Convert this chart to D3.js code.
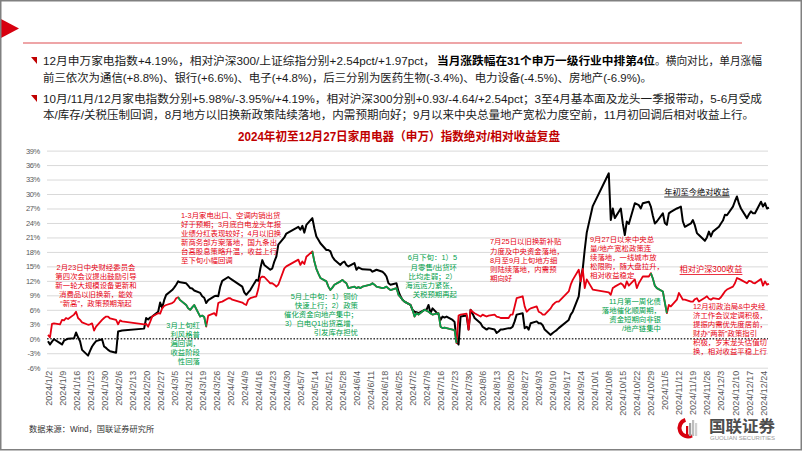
<!DOCTYPE html>
<html lang="zh-CN">
<head>
<meta charset="utf-8">
<script src="https://cdn.jsdelivr.net/npm/d3@7"></script>
<style>
  body { margin: 0; background: #fff; }
  svg { display: block; }
  text { font-family: "Liberation Sans", "Noto Sans CJK SC", sans-serif; }
</style>
</head>
<body>
<svg id="chart" width="802" height="451"></svg>
<script>
// values (percent), trading days of 2024
const absReturn = [
  ["1/2",-0.5],["1/3",-1.2],["1/4",-0.6],["1/5",-0.1],["1/8",-0.9],["1/9",-1.2],["1/10",-0.4],["1/11",-0.2],["1/12",0.0],
  ["1/15",0.1],["1/16",1.3],["1/17",0.3],["1/18",-0.5],["1/19",-2.3],["1/22",-3.5],["1/23",-2.5],["1/24",-1.6],["1/25",-1.0],
  ["1/26",-0.5],["1/29",-0.1],["1/30",-1.6],["1/31",-1.9],["2/1",-2.3],["2/2",-2.6],["2/5",-2.9],["2/6",1.5],["2/7",1.6],
  ["2/8",1.7],["2/19",2.1],["2/20",4.3],["2/21",4.0],["2/22",4.4],["2/23",4.6],["2/26",5.6],["2/27",7.5],["2/28",6.4],
  ["2/29",8.0],["3/1",9.1],["3/4",10.1],["3/5",10.6],["3/6",11.2],["3/7",11.9],["3/8",11.7],["3/11",11.5],["3/12",11.0],
  ["3/13",10.5],["3/14",10.4],["3/15",10.0],["3/18",9.5],["3/19",8.8],["3/20",8.5],["3/21",7.4],["3/22",8.0],["3/25",8.8],
  ["3/26",8.9],["3/27",8.8],["3/28",10.8],["3/29",12.0],["4/1",12.8],["4/2",12.5],["4/3",12.2],["4/8",10.8],["4/9",9.6],
  ["4/10",9.1],["4/11",9.6],["4/12",10.1],["4/15",12.2],["4/16",12.0],["4/17",14.5],["4/18",16.3],["4/19",15.3],["4/22",14.3],
  ["4/23",14.6],["4/24",16.0],["4/25",17.0],["4/26",19.5],["4/29",21.0],["4/30",21.8],["5/6",23.2],["5/7",22.6],["5/8",23.4],
  ["5/9",22.0],["5/10",23.6],["5/13",25.0],["5/14",22.9],["5/15",21.2],["5/16",20.5],["5/17",19.8],["5/20",18.4],["5/21",18.4],
  ["5/22",18.1],["5/23",17.0],["5/24",16.4],["5/27",15.3],["5/28",15.8],["5/29",16.0],["5/30",15.3],["5/31",15.0],["6/3",15.7],
  ["6/4",14.3],["6/5",14.8],["6/6",14.6],["6/7",14.4],["6/11",14.3],["6/12",13.9],["6/13",14.1],["6/14",14.3],["6/17",13.9],
  ["6/18",13.5],["6/19",12.9],["6/20",11.5],["6/21",11.2],["6/24",11.5],["6/25",9.8],["6/26",8.8],["6/27",8.1],["6/28",7.7],
  ["7/1",7.0],["7/2",6.0],["7/3",5.6],["7/4",5.5],["7/5",5.3],["7/8",6.0],["7/9",6.0],["7/10",7.0],["7/11",5.3],["7/12",6.3],
  ["7/15",5.0],["7/16",3.9],["7/17",4.6],["7/18",4.4],["7/19",4.6],["7/22",3.9],["7/23",3.5],["7/24",-0.5],["7/25",-1.2],
  ["7/26",4.6],["7/29",4.8],["7/30",1.9],["7/31",6.0],["8/1",5.2],["8/2",4.3],["8/5",3.2],["8/6",2.5],["8/7",2.2],["8/8",1.9],
  ["8/9",2.2],["8/12",1.9],["8/13",1.2],["8/14",1.5],["8/15",1.9],["8/16",1.9],["8/19",2.2],["8/20",2.2],["8/21",2.5],
  ["8/22",3.6],["8/23",5.0],["8/26",5.3],["8/27",2.2],["8/28",2.5],["8/29",1.9],["8/30",3.2],["9/2",3.6],["9/3",3.2],
  ["9/4",3.2],["9/5",2.8],["9/6",1.9],["9/9",0.8],["9/10",1.2],["9/11",1.5],["9/12",1.8],["9/13",2.2],["9/18",3.9],["9/19",5.0],
  ["9/20",5.6],["9/23",8.8],["9/24",12.5],["9/25",14.5],["9/26",18.5],["9/27",22.0],["9/30",27.5],["10/8",34.3],["10/9",24.6],
  ["10/10",27.0],["10/11",25.0],["10/14",27.0],["10/15",23.9],["10/16",21.5],["10/17",24.3],["10/18",23.8],["10/21",28.1],
  ["10/22",27.9],["10/23",27.7],["10/24",27.0],["10/25",28.1],["10/28",28.4],["10/29",27.4],["10/30",25.5],["10/31",23.9],
  ["11/1",24.3],["11/4",26.0],["11/5",24.0],["11/6",23.6],["11/7",26.0],["11/8",26.3],["11/11",27.0],["11/12",27.2],
  ["11/13",27.4],["11/14",24.3],["11/15",23.2],["11/18",23.9],["11/19",24.6],["11/20",23.5],["11/21",21.9],["11/22",21.5],
  ["11/25",20.3],["11/26",21.0],["11/27",22.2],["11/28",21.2],["11/29",22.2],["12/2",23.2],["12/3",23.9],["12/4",24.5],
  ["12/5",25.7],["12/6",25.6],["12/9",27.4],["12/10",28.5],["12/11",29.5],["12/12",28.0],["12/13",27.0],["12/16",25.0],
  ["12/17",25.8],["12/18",26.4],["12/19",26.0],["12/20",26.0],["12/23",28.4],["12/24",27.4],["12/25",28.1],["12/26",27.0],["12/27",27.2]
]

const relReturn = [
  ["1/2",0.8],["1/3",0.3],["1/4",3.1],["1/5",3.2],["1/8",3.0],["1/9",3.9],["1/10",3.8],["1/11",4.3],["1/12",4.1],["1/15",5.0],
  ["1/16",5.6],["1/17",4.3],["1/18",3.9],["1/19",3.4],["1/22",2.9],["1/23",3.0],["1/24",3.2],["1/25",1.7],["1/26",2.5],
  ["1/29",3.9],["1/30",4.3],["1/31",4.6],["2/1",4.6],["2/2",4.2],["2/5",3.9],["2/6",3.0],["2/7",3.8],["2/8",3.6],["2/19",3.0],
  ["2/20",3.1],["2/21",2.5],["2/22",3.5],["2/23",4.6],["2/26",5.3],["2/27",5.2],["2/28",6.3],["2/29",6.8],["3/1",7.0],
  ["3/4",7.4],["3/5",7.7],["3/6",8.4],["3/7",8.6],["3/8",8.0],["3/11",7.0],["3/12",6.3],["3/13",6.0],["3/14",6.5],["3/15",7.0],
  ["3/18",4.6],["3/19",4.8],["3/20",4.5],["3/21",2.5],["3/22",4.8],["3/25",5.3],["3/26",4.8],["3/27",7.4],["3/28",7.6],
  ["3/29",7.7],["4/1",8.4],["4/2",8.4],["4/3",8.1],["4/8",7.5],["4/9",7.2],["4/10",7.0],["4/11",8.1],["4/12",8.4],["4/15",8.8],
  ["4/16",10.3],["4/17",12.6],["4/18",12.9],["4/19",12.8],["4/22",11.5],["4/23",11.5],["4/24",11.2],["4/25",10.8],["4/26",11.2],
  ["4/29",14.6],["4/30",15.0],["5/6",16.4],["5/7",15.3],["5/8",16.0],["5/9",15.5],["5/10",17.0],["5/13",18.1],["5/14",16.0],
  ["5/15",14.5],["5/16",13.5],["5/17",12.6],["5/20",11.9],["5/21",10.8],["5/22",10.1],["5/23",10.6],["5/24",11.2],["5/27",11.9],
  ["5/28",12.2],["5/29",11.8],["5/30",11.5],["5/31",10.5],["6/3",10.8],["6/4",10.5],["6/5",10.7],["6/6",10.5],["6/7",10.8],
  ["6/11",11.2],["6/12",11.5],["6/13",11.2],["6/14",10.8],["6/17",10.5],["6/18",10.6],["6/19",10.8],["6/20",10.4],["6/21",10.1],
  ["6/24",10.5],["6/25",9.1],["6/26",8.6],["6/27",8.1],["6/28",7.7],["7/1",7.0],["7/2",6.0],["7/3",4.6],["7/4",5.3],["7/5",5.0],
  ["7/8",6.0],["7/9",5.8],["7/10",5.6],["7/11",5.3],["7/12",5.0],["7/15",5.3],["7/16",2.5],["7/17",2.2],["7/18",2.3],["7/19",2.2],
  ["7/22",1.9],["7/23",1.8],["7/24",-0.9],["7/25",4.8],["7/26",5.0],["7/29",5.2],["7/30",1.9],["7/31",6.0],["8/1",5.6],
  ["8/2",5.3],["8/5",4.6],["8/6",5.0],["8/7",4.8],["8/8",4.6],["8/9",4.8],["8/12",5.0],["8/13",4.6],["8/14",4.5],["8/15",4.3],
  ["8/16",4.3],["8/19",4.3],["8/20",5.0],["8/21",5.0],["8/22",6.7],["8/23",8.4],["8/26",8.8],["8/27",6.7],["8/28",5.6],
  ["8/29",6.0],["8/30",6.3],["9/2",6.7],["9/3",5.6],["9/4",5.4],["9/5",5.0],["9/6",5.0],["9/9",6.3],["9/10",7.0],["9/11",7.4],
  ["9/12",7.7],["9/13",7.7],["9/18",9.8],["9/19",11.2],["9/20",12.2],["9/23",14.3],["9/24",11.9],["9/25",14.5],["9/26",10.5],
  ["9/27",12.3],["9/30",10.2],["10/8",9.6],["10/9",9.1],["10/10",10.5],["10/11",10.8],["10/14",11.5],["10/15",11.2],
  ["10/16",10.5],["10/17",11.9],["10/18",11.0],["10/21",12.3],["10/22",10.5],["10/23",11.5],["10/24",12.2],["10/25",12.9],
  ["10/28",12.9],["10/29",13.6],["10/30",12.5],["10/31",11.0],["11/1",10.5],["11/4",9.8],["11/5",7.5],["11/6",5.3],["11/7",7.0],
  ["11/8",6.7],["11/11",8.1],["11/12",9.5],["11/13",8.8],["11/14",8.1],["11/15",8.1],["11/18",7.7],["11/19",7.7],["11/20",8.2],
  ["11/21",8.4],["11/22",7.7],["11/25",8.5],["11/26",8.8],["11/27",8.3],["11/28",8.1],["11/29",8.4],["12/2",8.2],["12/3",8.6],
  ["12/4",9.2],["12/5",9.8],["12/6",10.2],["12/9",10.8],["12/10",11.5],["12/11",12.6],["12/12",12.4],["12/13",12.2],
  ["12/16",11.5],["12/17",12.0],["12/18",11.9],["12/19",11.6],["12/20",11.5],["12/23",12.4],["12/24",11.0],["12/25",11.9],
  ["12/26",11.2],["12/27",11.4]
]

// stretches of the relative line drawn in green
const greenRanges = [["3/7","3/21"],["5/13","7/24"],["10/29","11/6"]]

const yTicks = [-6,-3,0,3,6,9,12,15,18,21,24,27,30,33,36,39]
const xTickLabels = [
  "2024/1/2","2024/1/9","2024/1/16","2024/1/23","2024/1/30","2024/2/6","2024/2/13","2024/2/20","2024/2/27",
  "2024/3/5","2024/3/12","2024/3/19","2024/3/26","2024/4/2","2024/4/9","2024/4/16","2024/4/23","2024/4/30",
  "2024/5/7","2024/5/14","2024/5/21","2024/5/28","2024/6/4","2024/6/11","2024/6/18","2024/6/25","2024/7/2",
  "2024/7/9","2024/7/16","2024/7/23","2024/7/30","2024/8/6","2024/8/13","2024/8/20","2024/8/27","2024/9/3",
  "2024/9/10","2024/9/17","2024/9/24","2024/10/1","2024/10/8","2024/10/15","2024/10/22","2024/10/29","2024/11/5",
  "2024/11/12","2024/11/19","2024/11/26","2024/12/3","2024/12/10","2024/12/17","2024/12/24"
]

const title = "2024年初至12月27日家用电器（申万）指数绝对/相对收益复盘"
const absLabel = "年初至今绝对收益"
const relLabel = "相对沪深300收益"
const source = "数据来源：Wind，国联证券研究所"

const noteA = ["2月23日中央财经委员会","第四次会议提出鼓励引导","新一轮大规模设备更新和","消费品以旧换新，能效","“新高”，政策预期渐起"]
const noteB = ["1-3月家电出口、空调内销出货","好于预期；3月底白电龙头年报","业绩分红表现较好；4月以旧换","新商务部方案落地，国九条出","台高股息策略升温，收益上行","至下旬小幅回调"]
const noteC = ["3月上旬红","利风格普","遍回调，","收益阶段","性回落"]
const noteD = ["5月上中旬：1）铜价","快速上行；2）政策","催化资金向地产集中；","3）白电Q1出货高增，","引发库存担忧"]
const noteE = ["6月下旬：1）5","月零售/出货环","比均走弱；2）","海运运力紧张，","关税预期再起"]
const noteF = ["7月25日以旧换新补贴","力度及中央资金落地，","8月至9月上旬地方细","则陆续落地，内需预","期向好"]
const noteG = ["9月27日以来中央总","量/地产宽松政策连","续落地，一线城市放","松限购，随大盘拉升，","相对收益稳定"]
const noteH = ["11月第一周化债","落地催化顺周期，","资金短期向非银","/地产链集中"]
const noteI = ["12月初政治局&中央经","济工作会议定调积极，","提振内需优先度居前，","财办“两新”政策指引","积极，岁末龙头估值切","换，相对收益平稳上行"]

const RED = '#e60012'
const GREEN = '#00a04b'

const parseMD = (s) => {
    const parts = s.split('/').map(Number)
    return new Date(2024, parts[parts.length - 2] - 1, parts[parts.length - 1])
}

const drawChart = () => {
    const svg = d3.select('#chart')
    const plot = { left: 47, right: 768, top: 150.6, bottom: 367.7 }

    svg.append('rect').attr('width', 802).attr('height', 451).attr('fill', '#fff')

    // ---- header ----
    svg.append('path').attr('d', 'M1,19 L19,28.5 L1,38 Z').attr('fill', '#d7000f')
    svg.append('line')
        .attr('x1', 23).attr('x2', 742).attr('y1', 43).attr('y2', 43)
        .attr('stroke', '#e8878a').attr('stroke-width', 1.5)

    const bullet = (y) => svg.append('path')
        .attr('d', `M31,${y} L37,${y} L37,${y + 7} Z`).attr('fill', '#c00000')
    bullet(57)
    bullet(95)

    const header = svg.append('g').style('font-size', '11px').style('fill', '#1a1a1a')
    const headLine = (txt, x, y, len, bold) => header.append('text')
        .attr('x', x).attr('y', y)
        .attr('textLength', len).attr('lengthAdjust', 'spacingAndGlyphs')
        .style('font-weight', bold ? 'bold' : 'normal')
        .style('fill', bold ? '#000' : '#1a1a1a')
        .text(txt)
    headLine('12月申万家电指数+4.19%，相对沪深300/上证综指分别+2.54pct/+1.97pct，', 43, 65, 392, false)
    headLine('当月涨跌幅在31个申万一级行业中排第4位', 437, 65, 218, true)
    headLine('。横向对比，单月涨幅', 655, 65, 107, false)
    headLine('前三依次为通信(+8.8%)、银行(+6.6%)、电子(+4.8%)，后三分别为医药生物(-3.4%)、电力设备(-4.5%)、房地产(-6.9%)。', 43, 82, 609, false)
    headLine('10月/11月/12月家电指数分别+5.98%/-3.95%/+4.19%，相对沪深300分别+0.93/-4.64/+2.54pct；3至4月基本面及龙头一季报带动，5-6月受成', 43, 103, 719, false)
    headLine('本/库存/关税压制回调，8月地方以旧换新政策陆续落地，内需预期向好；9月以来中央总量地产宽松力度空前，11月初回调后相对收益上行。', 43, 119, 711, false)

    svg.append('text')
        .attr('x', 238).attr('y', 141)
        .attr('textLength', 322).attr('lengthAdjust', 'spacingAndGlyphs')
        .style('font-size', '12px').style('font-weight', 'bold').style('fill', '#c00000')
        .text(title)

    // ---- scales ----
    const x = d3.scaleTime()
        .domain([new Date(2024, 0, 2), new Date(2024, 11, 27)])
        .range([48, 769])

    const y = d3.scaleLinear()
        .domain([-6, 39])
        .range([plot.bottom, plot.top])

    // ---- y axis with grid ----
    const yAxis = svg.append('g')
        .attr('transform', `translate(${plot.left},0)`)
        .call(d3.axisLeft(y).tickValues(yTicks).tickFormat(d => d + '%')
            .tickSize(-(plot.right - plot.left)).tickPadding(7))
    yAxis.select('.domain').remove()
    yAxis.selectAll('.tick line')
        .attr('stroke', d => d === 0 ? 'none' : '#d9d9d9')
    yAxis.selectAll('.tick text')
        .style('font-family', '"Liberation Sans", Arial, sans-serif')
        .style('font-size', '7.5px').style('letter-spacing', '-0.3px')
        .attr('fill', '#595959')

    svg.append('line')
        .attr('x1', plot.left).attr('x2', plot.right)
        .attr('y1', y(0)).attr('y2', y(0))
        .attr('stroke', '#3f3f3f').attr('stroke-width', 1.6)
        .attr('stroke-dasharray', '1.6,1.6')

    // ---- x axis ----
    const xAxis = svg.append('g')
        .attr('transform', `translate(0,${plot.bottom})`)
        .call(d3.axisBottom(x)
            .tickValues(xTickLabels.map(parseMD))
            .tickFormat((d, i) => xTickLabels[i])
            .tickSize(0))
    xAxis.select('.domain').remove()
    xAxis.selectAll('.tick text')
        .attr('transform', 'rotate(-90)')
        .attr('x', -3).attr('y', 0).attr('dy', '0.34em')
        .style('text-anchor', 'end')
        .style('font-family', '"Liberation Sans", Arial, sans-serif')
        .style('font-size', '9px')
        .attr('fill', '#595959')

    // ---- lines ----
    const line = d3.line()
        .x(d => x(parseMD(d[0])))
        .y(d => y(d[1]))

    svg.append('path')
        .datum(absReturn)
        .attr('d', line)
        .attr('fill', 'none').attr('stroke', '#000').attr('stroke-width', 2)
        .attr('stroke-linejoin', 'round')

    svg.append('path')
        .datum(relReturn)
        .attr('d', line)
        .attr('fill', 'none').attr('stroke', RED).attr('stroke-width', 1.8)
        .attr('stroke-linejoin', 'round')

    svg.append('g')
        .selectAll('path')
        .data(greenRanges.map(r => relReturn.filter(d => {
            const t = parseMD(d[0])
            return t >= parseMD(r[0]) && t <= parseMD(r[1])
        })))
        .join('path')
        .attr('d', line)
        .attr('fill', 'none').attr('stroke', GREEN).attr('stroke-width', 1.8)
        .attr('stroke-linejoin', 'round')

    // ---- notes (one text block each, lines as tspans) ----
    const note = (lines, color, anchor, nx, ny, step) => {
        svg.append('text')
            .attr('x', nx).attr('y', ny)
            .attr('text-anchor', anchor)
            .style('font-size', '7.4px')
            .style('fill', color)
            .selectAll('tspan')
            .data(lines)
            .join('tspan')
            .attr('x', nx)
            .attr('y', (d, i) => ny + i * step)
            .text(d => d)
    }
    note(noteA, RED, 'middle', 96, 270.3, 9)
    note(noteB, RED, 'start', 181, 217.6, 9.1)
    note(noteC, GREEN, 'end', 200, 328.2, 9)
    note(noteD, GREEN, 'end', 358, 299.3, 9)
    note(noteE, GREEN, 'end', 457, 260.3, 9.2)
    note(noteF, RED, 'start', 490, 244.3, 9.2)
    note(noteG, RED, 'start', 590, 242, 9)
    note(noteH, GREEN, 'end', 661, 304.3, 9)
    note(noteI, RED, 'start', 693, 308.6, 9.1)

    // ---- series labels ----
    const tag = (txt, color, cx, by) => {
        const t = svg.append('text')
            .attr('x', cx).attr('y', by)
            .attr('text-anchor', 'middle')
            .style('font-size', '8.2px').style('fill', color)
            .text(txt)
        const w = t.node().getComputedTextLength()
        svg.append('line')
            .attr('x1', cx - w / 2).attr('x2', cx + w / 2)
            .attr('y1', by + 2.5).attr('y2', by + 2.5)
            .attr('stroke', color).attr('stroke-width', 0.8)
    }
    tag(absLabel, '#000', 697, 194.5)
    tag(relLabel, RED, 711, 272)

    // ---- footer ----
    svg.append('text')
        .attr('x', 29).attr('y', 432)
        .style('font-size', '8.2px').style('fill', '#333')
        .text(source)

    const logo = svg.append('g').attr('transform', 'translate(688,428)')
    logo.append('path')
        .attr('d', d3.arc().innerRadius(6.5).outerRadius(10.5).startAngle(Math.PI * 0.85).endAngle(Math.PI * 1.9)())
        .attr('fill', '#d7000f')
    logo.selectAll('rect')
        .data([[-2, 6, '#d7000f'], [1, 9, '#9e9e9e'], [4, 12, '#bdbdbd'], [7, 9, '#d0d0d0']])
        .join('rect')
        .attr('x', d => d[0]).attr('y', d => 8 - d[1] - 4)
        .attr('width', 2.2).attr('height', d => d[1] + 4)
        .attr('fill', d => d[2])
    svg.append('text')
        .attr('x', 709).attr('y', 432)
        .attr('textLength', 66).attr('lengthAdjust', 'spacingAndGlyphs')
        .style('font-size', '16px').style('font-weight', 'bold').style('fill', '#4d4d4d')
        .text('国联证券')
    svg.append('text')
        .attr('x', 710).attr('y', 439.5)
        .attr('textLength', 65).attr('lengthAdjust', 'spacingAndGlyphs')
        .style('font-family', '"Liberation Sans", Arial, sans-serif')
        .style('font-size', '4.5px').style('fill', '#9a9a9a')
        .text('GUOLIAN SECURITIES')

    // outer frame
    svg.append('rect')
        .attr('x', 0.75).attr('y', 0.75).attr('width', 800.5).attr('height', 449)
        .attr('fill', 'none').attr('stroke', '#808080').attr('stroke-width', 1.5)
}

drawChart()
</script>
</body>
</html>
